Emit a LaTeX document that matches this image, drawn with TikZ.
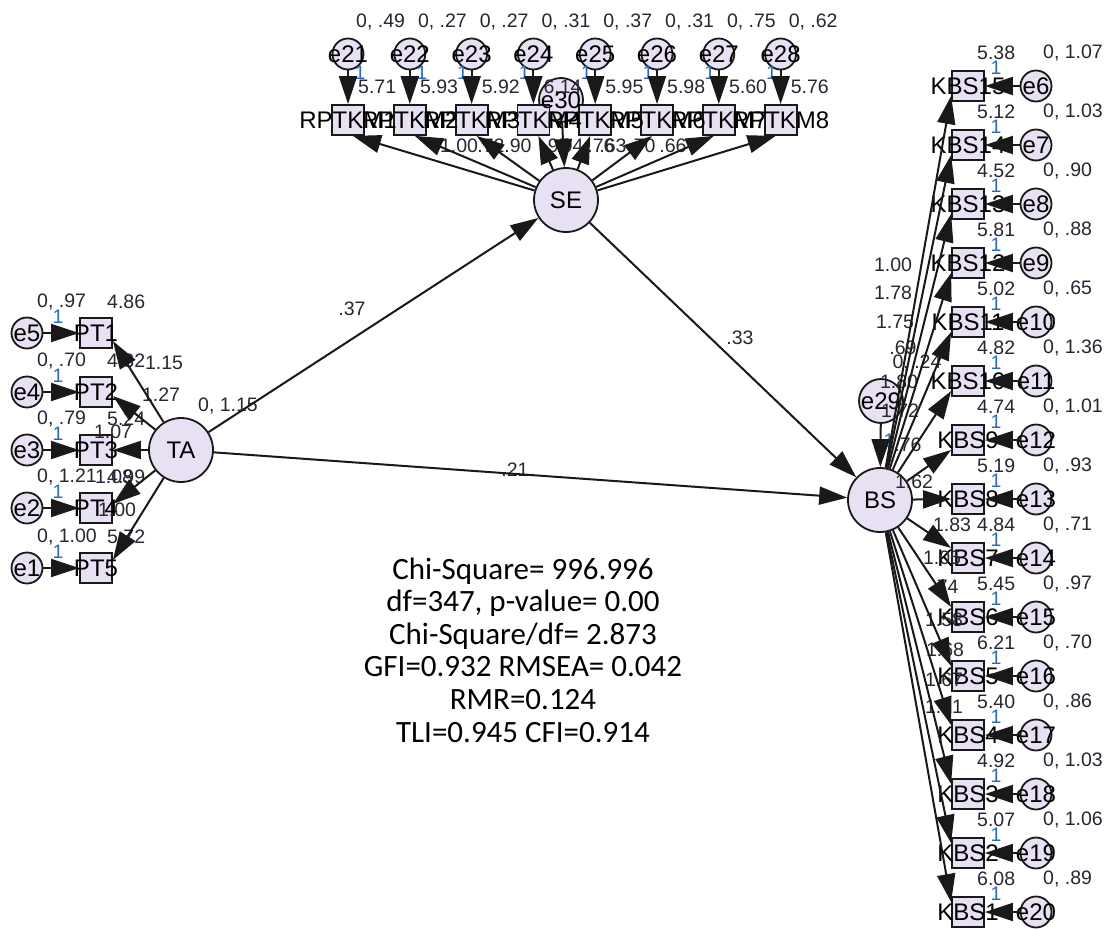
\documentclass[tikz,border=0pt]{standalone}
\usepackage{fontspec}
\setmainfont{Liberation Sans}
\newfontfamily\statfont{Carlito}
\usetikzlibrary{arrows.meta,calc}

\definecolor{nodefill}{RGB}{232,224,243}
\definecolor{edgecol}{RGB}{25,25,25}
\definecolor{lblcol}{RGB}{40,38,50}
\definecolor{onecol}{RGB}{45,105,185}

\begin{document}
\begin{tikzpicture}[x=1pt,y=-1pt,
  shapebase/.style={draw=edgecol, line width=1.8pt, fill=nodefill, inner sep=0pt},
  latent/.style={shapebase, circle, minimum size=64pt},
  resid/.style={shapebase, circle, minimum size=44pt},
  err/.style={shapebase, circle, minimum size=31pt},
  obs/.style={shapebase, rectangle, minimum width=32pt, minimum height=30pt},
  vname/.style={inner sep=0pt, font=\fontsize{24}{24}\selectfont, text=black},
  num/.style={inner sep=0pt, font=\fontsize{19.5}{20}\selectfont, text=lblcol},
  one/.style={num, text=onecol},
  link/.style={draw=edgecol, line width=2pt, -{Triangle[length=28pt,width=18pt]}},
  stats/.style={inner sep=0pt, align=center, text=black, font=\statfont\fontsize{31}{32.6}\selectfont}
]
\fill[white] (0,0) rectangle (1109,929);
\useasboundingbox (0,0) rectangle (1109,929);

% ---------- shapes ----------
\node[resid] (e30) at (561,100) {};
\node[resid] (e29) at (881,401) {};
\node[latent] (ta) at (181,450) {};
\node[latent] (se) at (566,200) {};
\node[latent] (bs) at (880,500) {};

\foreach \k/\y/\e in {1/333/5,2/392/4,3/450/3,4/508/2,5/568/1}{
  \node[obs] (pt\k) at (96,\y) {};
  \node[err] (e\e) at (27,\y) {};
}
\foreach \k in {1,...,8}{
  \pgfmathsetmacro\xx{348+61.8*(\k-1)}
  \node[err] (e2\k) at (\xx,54) {};
  \node[obs] (rk\k) at (\xx,120) {};
}
\foreach \k in {0,...,14}{
  \pgfmathsetmacro\yy{86+59*\k}
  \pgfmathtruncatemacro\n{15-\k}
  \pgfmathtruncatemacro\ee{6+\k}
  \node[obs] (kbs\n) at (968,\yy) {};
  \node[err] (e\ee) at (1036,\yy) {};
}

% ---------- variable names ----------
\node[vname] (tat) at (ta) {TA};
\node[vname] (set) at (se) {SE};
\node[vname] (bst) at (bs) {BS};
\node[vname] (e29t) at (e29) {e29};
\node[vname] (e30t) at (e30) {e30};
\foreach \k/\e in {1/5,2/4,3/3,4/2,5/1}{
  \node[vname] (pt\k t) at (pt\k) {PT\k};
  \node[vname] (e\e t) at (e\e) {e\e};
}
\foreach \k in {1,...,8}{
  \node[vname] (rk\k t) at (rk\k) {RPTKM\k};
  \node[vname] (e2\k t) at (e2\k) {e2\k};
}
\foreach \k in {0,...,14}{
  \pgfmathtruncatemacro\n{15-\k}
  \pgfmathtruncatemacro\ee{6+\k}
  \node[vname] (kbs\n t) at (kbs\n) {KBS\n};
  \node[vname] (e\ee t) at (e\ee) {e\ee};
}

% ---------- estimates ----------
% left block
\foreach \k/\y/\v/\i in {1/333/{0, .97}/4.86, 2/392/{0, .70}/4.32, 3/450/{0, .79}/5.24, 4/508/{0, 1.21}/4.99, 5/568/{0, 1.00}/5.72}{
  \node[num, anchor=west] (ptv\k) at (37,{\y-31}) {\v};
  \node[num, anchor=west] (pti\k) at (107,{\y-31}) {\i};
  \node[one] (pto\k) at (58,{\y-16}) {1};
}
\foreach \t/\x/\y [count=\i] in {1.15/164/363, 1.27/161/395, 1.07/113/432, 1.08/114/477, 1.00/117/510}{
  \node[num] (ptw\i) at (\x,\y) {\t};
}
\node[num, anchor=west] (tav) at (198,406) {0, 1.15};

% top block
\foreach \k/\v/\i in {1/{0, .49}/5.71, 2/{0, .27}/5.93, 3/{0, .27}/5.92, 4/{0, .31}/6.14, 5/{0, .37}/5.95, 6/{0, .31}/5.98, 7/{0, .75}/5.60, 8/{0, .62}/5.76}{
  \pgfmathsetmacro\xx{348+61.8*(\k-1)}
  \pgfmathsetmacro\ox{\k<3 ? 12 : -9}
  \node[num, anchor=west] (rkv\k) at ({\xx+8},22) {\v};
  \node[num, anchor=west] (rki\k) at ({\xx+10},87) {\i};
  \node[one] (rko\k) at ({\xx+\ox},73) {1};
}
\foreach \t/\x [count=\i] in {1.00/459, .72/491, .90/518, .95/556, .94/570, .76/601, .63/613, .70/642, .66/673}{
  \node[num] (rkw\i) at (\x,146) {\t};
}

% right block
\foreach \k/\i/\v in {0/5.38/{0, 1.07}, 1/5.12/{0, 1.03}, 2/4.52/{0, .90}, 3/5.81/{0, .88}, 4/5.02/{0, .65}, 5/4.82/{0, 1.36}, 6/4.74/{0, 1.01}, 7/5.19/{0, .93}, 8/4.84/{0, .71}, 9/5.45/{0, .97}, 10/6.21/{0, .70}, 11/5.40/{0, .86}, 12/4.92/{0, 1.03}, 13/5.07/{0, 1.06}, 14/6.08/{0, .89}}{
  \pgfmathsetmacro\yy{86+59*\k}
  \node[num, anchor=west] (kbi\k) at (977,{\yy-33}) {\i};
  \node[num, anchor=west] (kbv\k) at (1043,{\yy-33}) {\v};
  \node[one] (kbo\k) at (996,{\yy-18}) {1};
}
\foreach \t/\x/\y [count=\i] in {1.00/893/265, 1.78/893/293, 1.75/895/322, .69/903/348, 1.80/899/382, 1.72/900/411, .76/908/445, 1.62/914/482, 1.83/952/525, 1.05/942/558, .74/945/587, 1.58/944/620, 1.68/945/650, 1.67/944/680, 1.21/944/707}{
  \node[num] (kbw\i) at (\x,\y) {\t};
}
\node[num] (e29v) at (917,363) {0, .24};
\node[one] (e29o) at (889,441) {1};

% structural estimates
\node[num] (w1) at (352,309) {.37};
\node[num] (w2) at (740,338) {.33};
\node[num] (w3) at (515,470) {.21};

% ---------- paths ----------
\foreach \k/\e/\dy in {1/5/8, 2/4/4, 3/3/0, 4/2/-4, 5/1/-8}{
  \draw[link] (e\e) -- (pt\k);
  \draw[link] (ta) -- ($(pt\k.east)+(0,\dy)$);
}
\foreach \k in {1,...,8}{
  \pgfmathsetmacro\dx{\k<5 ? 5 : -5}
  \draw[link] (e2\k) -- (rk\k);
  \draw[link] (se) -- ($(rk\k.south)+(\dx,0)$);
}
\foreach \k in {0,...,14}{
  \pgfmathtruncatemacro\n{15-\k}
  \pgfmathtruncatemacro\ee{6+\k}
  \pgfmathsetmacro\dy{\k<7 ? 10 : (\k>7 ? -10 : 0)}
  \draw[link] (e\ee) -- (kbs\n);
  \draw[link] (bs) -- ($(kbs\n.west)+(0,\dy)$);
}
\draw[link] (ta) -- (se);
\draw[link] (se) -- (bs);
\draw[link] (ta) -- (bs);
\draw[link] (e29) -- (bs);
\draw[link] (e30) -- (se);

% ---------- fit indices ----------
\node[stats] (fit) at (523,650) {Chi-Square= 996.996\\df=347, p-value= 0.00\\Chi-Square/df= 2.873\\GFI=0.932 RMSEA= 0.042\\RMR=0.124\\TLI=0.945 CFI=0.914};
\end{tikzpicture}
\end{document}
